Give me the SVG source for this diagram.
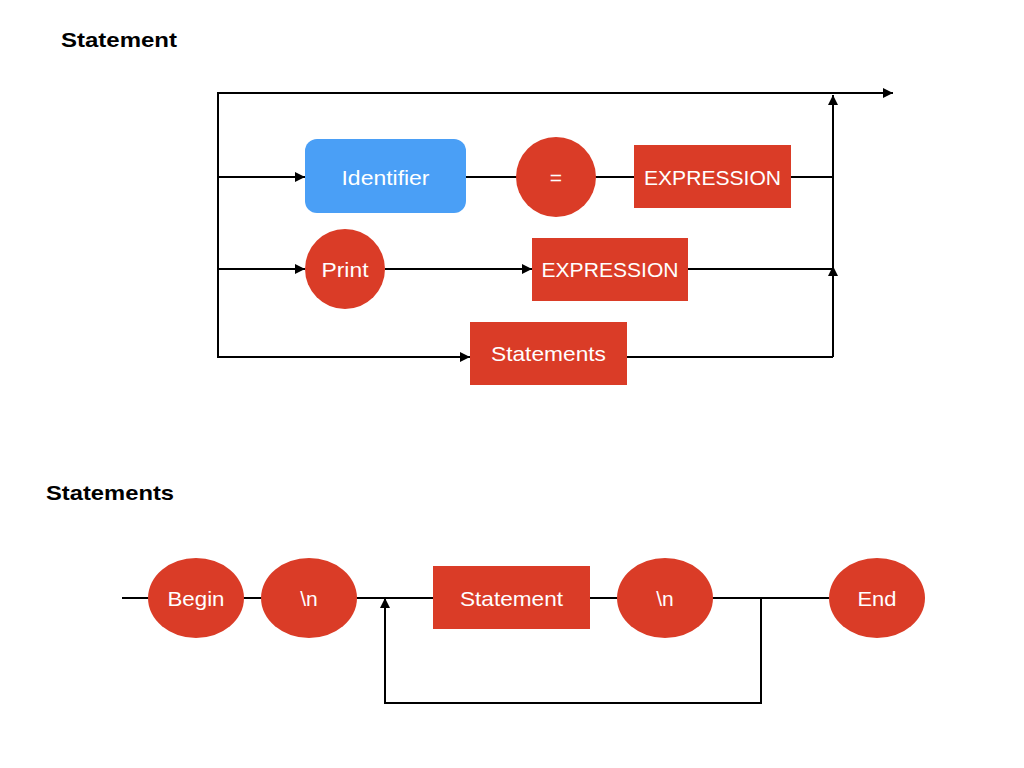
<svg xmlns="http://www.w3.org/2000/svg" width="1024" height="768" viewBox="0 0 1024 768">
<defs>
<marker id="arr" viewBox="0 0 10 10" refX="10" refY="5" markerWidth="10" markerHeight="10" markerUnits="userSpaceOnUse" orient="auto">
<path d="M0,0 L10,5 L0,10 z" fill="#000"/>
</marker>
</defs>
<style>
.title{font-family:"Liberation Sans",Arial,sans-serif;font-weight:bold;font-size:21px;fill:#000}
.lbl{font-family:"Liberation Sans",Arial,sans-serif;font-size:21px;fill:#fff;text-anchor:middle}
.red{fill:#DA3C27}
.blue{fill:#4A9FF6}
.ln{stroke:#000;stroke-width:2;fill:none}
</style>
<rect width="1024" height="768" fill="#fff"/>
<text class="title" x="61" y="47" textLength="116" lengthAdjust="spacingAndGlyphs">Statement</text>
<text class="title" x="46" y="500" textLength="128" lengthAdjust="spacingAndGlyphs">Statements</text>

<g id="connectors">
<polyline class="ln" points="833,357 218,357 218,93 893,93" marker-end="url(#arr)"/>
<line class="ln" x1="386" y1="357" x2="470" y2="357" marker-end="url(#arr)"/>
<line class="ln" x1="218" y1="177" x2="305" y2="177" marker-end="url(#arr)"/>
<line class="ln" x1="466" y1="177" x2="634" y2="177"/>
<line class="ln" x1="791" y1="177" x2="833" y2="177"/>
<line class="ln" x1="833" y1="357" x2="833" y2="95" marker-end="url(#arr)"/>
<line class="ln" x1="833" y1="357" x2="833" y2="266" marker-end="url(#arr)"/>
<line class="ln" x1="218" y1="269" x2="305" y2="269" marker-end="url(#arr)"/>
<line class="ln" x1="385" y1="269" x2="532" y2="269" marker-end="url(#arr)"/>
<line class="ln" x1="688" y1="269" x2="833" y2="269"/>
<line class="ln" x1="627" y1="357" x2="833" y2="357"/>

<line class="ln" x1="122" y1="598" x2="829" y2="598"/>
<polyline class="ln" points="761,598 761,703 385,703 385,598" marker-end="url(#arr)"/>
</g>

<g id="identifier"><rect class="blue" x="305" y="139" width="161" height="74" rx="12"/><text class="lbl" x="385.5" y="185" textLength="88" lengthAdjust="spacingAndGlyphs">Identifier</text></g>
<g id="equals"><circle class="red" cx="556" cy="177" r="40"/><text class="lbl" x="556" y="185">=</text></g>
<g id="expression1"><rect class="red" x="634" y="145" width="157" height="63"/><text class="lbl" x="712.5" y="185" textLength="137" lengthAdjust="spacingAndGlyphs">EXPRESSION</text></g>
<g id="print"><circle class="red" cx="345" cy="269" r="40"/><text class="lbl" x="345" y="277" textLength="47" lengthAdjust="spacingAndGlyphs">Print</text></g>
<g id="expression2"><rect class="red" x="532" y="238" width="156" height="63"/><text class="lbl" x="610" y="277" textLength="137" lengthAdjust="spacingAndGlyphs">EXPRESSION</text></g>
<g id="statements"><rect class="red" x="470" y="322" width="157" height="63"/><text class="lbl" x="548.5" y="361" textLength="115" lengthAdjust="spacingAndGlyphs">Statements</text></g>

<g id="begin"><ellipse class="red" cx="196" cy="598" rx="48" ry="40"/><text class="lbl" x="196" y="606" textLength="57" lengthAdjust="spacingAndGlyphs">Begin</text></g>
<g id="newline1"><ellipse class="red" cx="309" cy="598" rx="48" ry="40"/><text class="lbl" x="309" y="606">\n</text></g>
<g id="statement"><rect class="red" x="433" y="566" width="157" height="63"/><text class="lbl" x="511.5" y="606" textLength="103" lengthAdjust="spacingAndGlyphs">Statement</text></g>
<g id="newline2"><ellipse class="red" cx="665" cy="598" rx="48" ry="40"/><text class="lbl" x="665" y="606">\n</text></g>
<g id="end"><ellipse class="red" cx="877" cy="598" rx="48" ry="40"/><text class="lbl" x="877" y="606" textLength="39" lengthAdjust="spacingAndGlyphs">End</text></g>
</svg>
